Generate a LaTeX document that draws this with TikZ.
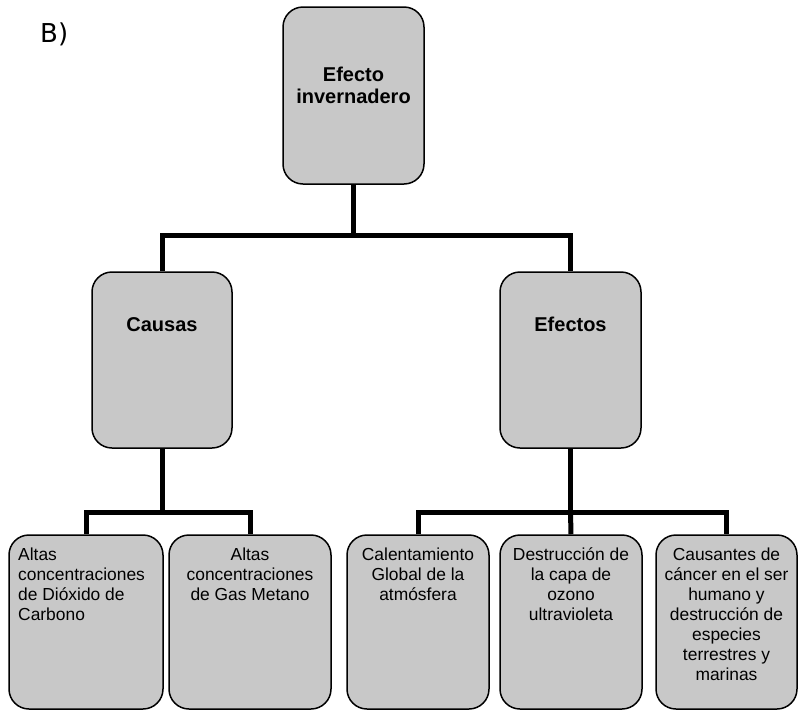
\documentclass[tikz,border=0pt]{standalone}
\usepackage{fontspec}
\setmainfont{Liberation Sans}
\newfontfamily\labfont{DejaVu Sans}
\definecolor{boxgray}{RGB}{200,200,200}
\begin{document}
\begin{tikzpicture}[x=1pt,y=-1pt,
  box/.style={draw=black,fill=boxgray,line width=1.5pt,rounded corners=20pt,inner sep=0pt},
  conn/.style={draw=black,line width=5pt},
  bigtxt/.style={font=\bfseries\fontsize{20}{22}\selectfont,align=center,inner sep=0pt,anchor=base},
  smalltxt/.style={font=\fontsize{17.4}{20}\selectfont,align=center,inner sep=0pt,anchor=base}]
\useasboundingbox (0,0) rectangle (807,710);
% boxes
\node[box,minimum width=141pt,minimum height=177pt] (top) at (353.5,95.5) {};
\node[box,minimum width=140pt,minimum height=176pt] (causas) at (162,360) {};
\node[box,minimum width=141pt,minimum height=176pt] (efectos) at (570.5,360) {};
\node[box,minimum width=154pt,minimum height=174pt] (b1) at (86,622) {};
\node[box,minimum width=162pt,minimum height=174pt] (b2) at (250,622) {};
\node[box,minimum width=142pt,minimum height=174pt] (b3) at (418,622) {};
\node[box,minimum width=142pt,minimum height=174pt] (b4) at (571,622) {};
\node[box,minimum width=141pt,minimum height=174pt] (b5) at (726.5,622) {};
% texts (anchor base = baseline of the last line)
\node[font=\labfont\fontsize{26}{30}\selectfont,anchor=base west,inner sep=0pt] (lab) at (40,42) {B)};
\node[bigtxt] (ttop) at (353.5,103) {Efecto\\invernadero};
\node[bigtxt] (tcausas) at (162,331) {Causas};
\node[bigtxt] (tefectos) at (570.5,331) {Efectos};
\node[smalltxt,align=left,anchor=base west] (t1) at (18,620) {Altas\\concentraciones\\de Dióxido de\\Carbono};
\node[smalltxt] (t2) at (250,600) {Altas\\concentraciones\\de Gas Metano};
\node[smalltxt] (t3) at (418,600) {Calentamiento\\Global de la\\atmósfera};
\node[smalltxt] (t4) at (571,620) {Destrucción de\\la capa de\\ozono\\ultravioleta};
\node[smalltxt] (t5) at (726.5,680) {Causantes de\\cáncer en el ser\\humano y\\destrucción de\\especies\\terrestres y\\marinas};
% connector coordinates
\coordinate (bar1) at (353.5,235.5);
\coordinate (bar2) at (162,512);
\coordinate (bar3) at (570.5,512);
% connectors
\draw[conn] (top.south) -- (bar1);
\draw[conn] (causas.north) |- (bar1) -| (efectos.north);
\draw[conn] (causas.south) -- (bar2);
\draw[conn] (b1.north) |- (bar2) -| (b2.north);
\draw[conn] (efectos.south) -- (bar3);
\draw[conn] (b3.north) |- (bar3) -| (b5.north);
\draw[conn] (b4.north) -- (bar3);
\end{tikzpicture}
\end{document}
